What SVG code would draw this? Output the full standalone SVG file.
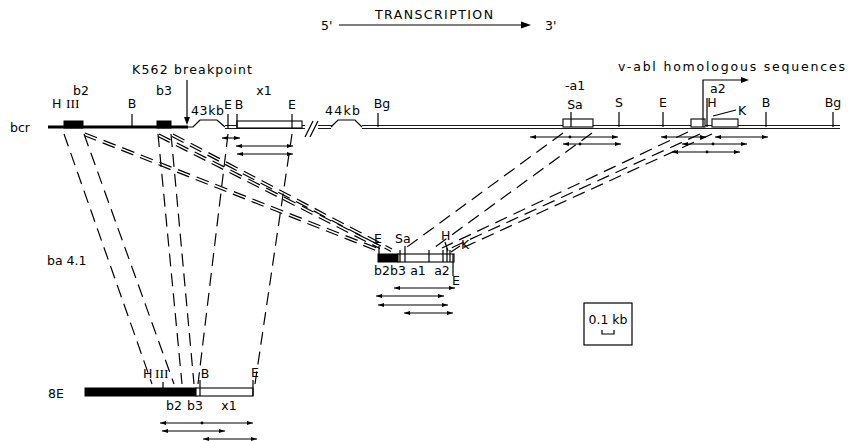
<svg xmlns="http://www.w3.org/2000/svg" width="852" height="441" viewBox="0 0 852 441">
<style>
.t{font-family:"DejaVu Sans","Liberation Sans",sans-serif;font-size:12.5px;fill:#000}
.r{font-family:"Liberation Serif","DejaVu Serif",serif;font-size:13.5px;fill:#000}
.tm{text-anchor:middle}
.ln{stroke:#000;stroke-width:1.2;fill:none}
.thin{stroke:#000;stroke-width:0.9;fill:none}
.dash{stroke:#000;stroke-width:1.2;fill:none;stroke-dasharray:13 7}
.arr{stroke:#000;stroke-width:1.1;fill:none;marker-start:url(#ah);marker-end:url(#ah)}
.blk{fill:#000;stroke:#000;stroke-width:1}
.wht{fill:#fff;stroke:#000;stroke-width:1.1}
</style>
<defs>
<marker id="ah" viewBox="0 0 6 4" refX="6" refY="2" markerWidth="6" markerHeight="4" markerUnits="userSpaceOnUse" orient="auto-start-reverse"><path d="M0,0 L6,2 L0,4 z" fill="#000"/></marker>
</defs>
<rect width="852" height="441" fill="#fff"/>

<g id="transcription">
<text class="t" x="375" y="19" textLength="118" lengthAdjust="spacing">TRANSCRIPTION</text>
<text class="t" x="321" y="30">5'</text>
<line class="ln" x1="339" y1="25" x2="523" y2="25"/>
<polygon points="521,21.5 531,25 521,28.5" fill="#000"/>
<text class="t" x="545" y="30">3'</text>
</g>

<g id="connectors">
<line class="dash" x1="64" y1="134" x2="152" y2="384"/>
<line class="dash" x1="84" y1="134" x2="174" y2="384"/>
<line class="dash" x1="158" y1="134" x2="182" y2="384"/>
<line class="dash" x1="171" y1="134" x2="194" y2="384"/>
<line class="dash" x1="228" y1="134" x2="198" y2="384"/>
<line class="dash" x1="292" y1="134" x2="255" y2="384"/>
<line class="dash" x1="85" y1="133" x2="377" y2="248"/>
<line class="dash" x1="84" y1="135.5" x2="376" y2="250.5"/>
<line class="dash" x1="159" y1="134" x2="381" y2="246"/>
<line class="dash" x1="158" y1="136.5" x2="380" y2="248.5"/>
<line class="dash" x1="173" y1="134" x2="392" y2="249"/>
<line class="dash" x1="172" y1="136.5" x2="391" y2="251.5"/>
<line class="dash" x1="563" y1="133" x2="407" y2="247"/>
<line class="dash" x1="592" y1="133" x2="431" y2="250"/>
<line class="dash" x1="688" y1="132" x2="442" y2="248"/>
<line class="dash" x1="700" y1="134" x2="449" y2="249"/>
<line class="dash" x1="712" y1="134" x2="458" y2="250"/>
</g>

<g id="bcr">
<text class="t" x="10" y="132">bcr</text>
<line x1="48" y1="127" x2="188" y2="127" stroke="#000" stroke-width="3"/>
<rect class="blk" x="64" y="121" width="19" height="7"/>
<rect class="blk" x="157" y="121" width="14" height="7"/>
<path class="ln" d="M187,127 L193,127 L200,120 L217,120 L225,127"/>
<path class="thin" d="M225,125.5 H305 M225,128.5 H305"/>
<rect class="wht" x="237" y="121" width="65" height="7"/>
<path class="ln" d="M305,137 L313,121 M310,137 L318,121"/>
<path class="thin" d="M318,125.5 H332 M318,128.5 H331"/>
<path class="ln" d="M331,127 L338,120 L355,120 L362,127"/>
<path class="thin" d="M362,125.5 H840 M362,128.5 H840"/>
<rect class="wht" x="563" y="119" width="30" height="8"/>
<rect class="wht" x="691" y="119" width="14" height="8"/>
<rect class="wht" x="712" y="119" width="26" height="8"/>
<path class="ln" d="M132,114 V127 M228,114 V128 M237,114 V128 M292,114 V128 M378,113 V127 M571,112 V127 M619,112 V127 M663,112 V127 M707,98 V127 M766,112 V127 M833,112 V127"/>
<text class="t" x="52" y="108">H</text>
<text class="r" x="66" y="108">III</text>
<text class="t tm" x="81" y="95">b2</text>
<text class="t tm" x="132" y="108">B</text>
<text class="t tm" x="164" y="95">b3</text>
<text class="t" x="132" y="74" textLength="120" lengthAdjust="spacing">K562 breakpoint</text>
<line class="ln" x1="187" y1="80" x2="187" y2="118"/>
<polygon points="184,117 187,125 190,117" fill="#000"/>
<text class="t" x="191" y="115" textLength="33" lengthAdjust="spacing">43kb</text>
<text class="t tm" x="228" y="109">E</text>
<text class="t tm" x="239" y="109">B</text>
<text class="t tm" x="264" y="95">x1</text>
<text class="t tm" x="292" y="109">E</text>
<text class="t" x="325" y="115" textLength="35" lengthAdjust="spacing">44kb</text>
<text class="t tm" x="382" y="108">Bg</text>
<text class="t" x="565" y="90">-a1</text>
<text class="t tm" x="575" y="109">Sa</text>
<text class="t tm" x="619" y="107">S</text>
<text class="t tm" x="663" y="107">E</text>
<text class="t tm" x="712" y="107">H</text>
<text class="t" x="710" y="93">a2</text>
<text class="t" x="738" y="115">K</text>
<line class="ln" x1="713" y1="116" x2="736" y2="110"/>
<text class="t tm" x="766" y="107">B</text>
<text class="t tm" x="833" y="107">Bg</text>
<polyline class="ln" points="703,127 703,80 742,80"/>
<polygon points="741,77 749,80 741,83" fill="#000"/>
<text class="t" x="618" y="71" textLength="227" lengthAdjust="spacing">v-abl homologous sequences</text>
<line class="arr" x1="222" y1="138" x2="240" y2="138"/>
<line class="arr" x1="236" y1="146" x2="293" y2="146"/>
<line class="arr" x1="237" y1="154" x2="293" y2="154"/>
<line class="arr" x1="530" y1="137" x2="618" y2="137"/>
<circle cx="570" cy="137" r="1.4"/>
<line class="arr" x1="563" y1="144" x2="621" y2="144"/>
<circle cx="580" cy="144" r="1.4"/>
<line class="arr" x1="661" y1="137" x2="706" y2="137"/>
<line class="arr" x1="715" y1="137" x2="768" y2="137"/>
<line class="arr" x1="682" y1="144" x2="747" y2="144"/>
<circle cx="713" cy="144" r="1.4"/>
<line class="arr" x1="672" y1="152" x2="740" y2="152"/>
<circle cx="707" cy="152" r="1.4"/>
</g>

<g id="ba41">
<text class="t" x="47" y="265">ba 4.1</text>
<rect class="blk" x="378" y="254" width="20" height="8"/>
<rect class="wht" x="398" y="254" width="56" height="8"/>
<path class="ln" d="M379,246 V262 M400,250 V262 M405,246 V262 M429,250 V262 M443,250 V262 M447,248 V262 M450,250 V262 M453,254 V276"/>
<text class="t tm" x="378" y="243">E</text>
<text class="t" x="395" y="243">Sa</text>
<text class="t" x="441" y="240">H</text>
<line class="ln" x1="445" y1="242" x2="448" y2="251"/>
<text class="t" x="461" y="249">K</text>
<line class="ln" x1="451" y1="252" x2="460" y2="246"/>
<text class="t tm" x="382" y="275">b2</text>
<text class="t tm" x="398" y="275">b3</text>
<text class="t tm" x="418" y="275">a1</text>
<text class="t tm" x="442" y="275">a2</text>
<text class="t tm" x="456" y="285">E</text>
<line class="arr" x1="394" y1="288" x2="455" y2="288"/>
<line class="arr" x1="376" y1="296" x2="444" y2="296"/>
<line class="arr" x1="378" y1="305" x2="448" y2="305"/>
<line class="arr" x1="404" y1="313" x2="453" y2="313"/>
</g>

<g id="scale">
<rect x="584" y="303" width="48" height="42" fill="none" stroke="#000" stroke-width="1.2"/>
<text class="t tm" x="608" y="324">0.1 kb</text>
<path class="ln" d="M602,330 V334 H614 V330"/>
</g>

<g id="e8">
<text class="t" x="48" y="398">8E</text>
<rect class="blk" x="85" y="388" width="111" height="8"/>
<rect class="wht" x="196" y="388" width="57" height="8"/>
<path class="ln" d="M163,382 V396 M200,380 V396 M253,380 V396"/>
<text class="t" x="143" y="378">H</text>
<text class="r" x="155" y="378">III</text>
<text class="t tm" x="205" y="378">B</text>
<text class="t tm" x="255" y="377">E</text>
<text class="t tm" x="174" y="410">b2</text>
<text class="t tm" x="195" y="410">b3</text>
<text class="t tm" x="229" y="410">x1</text>
<line class="arr" x1="160" y1="423" x2="253" y2="423"/>
<circle cx="202" cy="423" r="1.4"/>
<line class="arr" x1="162" y1="431" x2="225" y2="431"/>
<line class="arr" x1="203" y1="439" x2="257" y2="439"/>
</g>
</svg>
